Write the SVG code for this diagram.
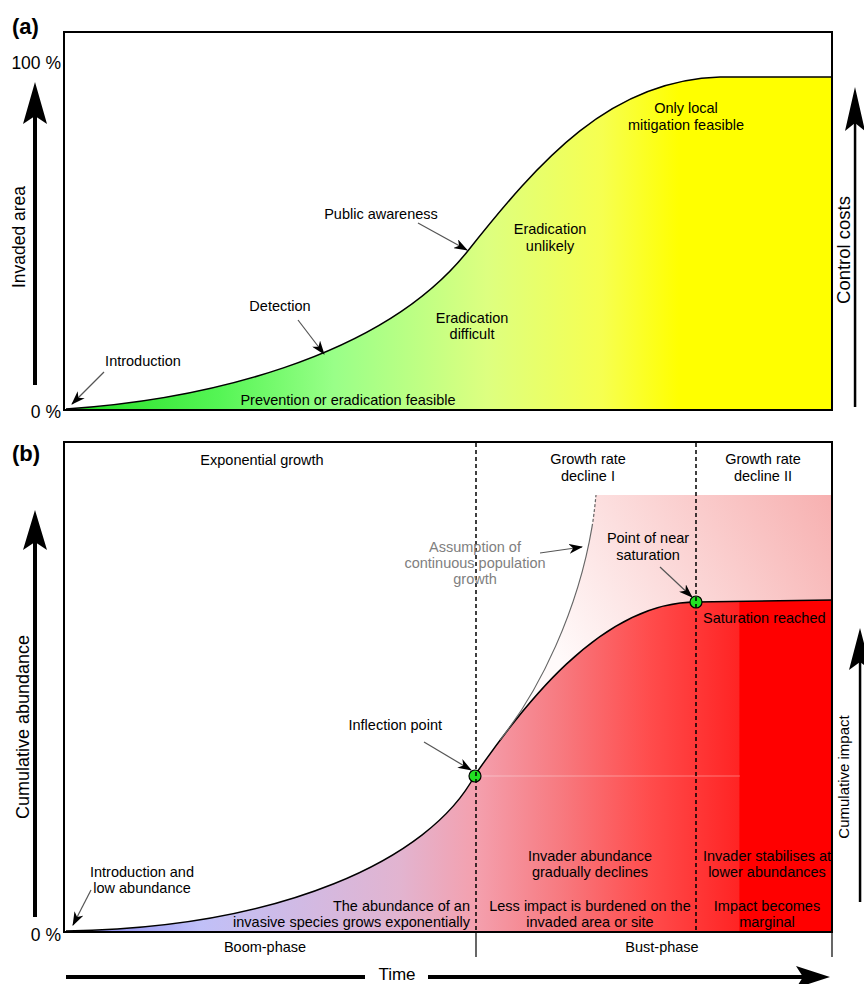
<svg xmlns="http://www.w3.org/2000/svg" width="864" height="984" viewBox="0 0 864 984">
<style>
text{font-family:"Liberation Sans",Arial,sans-serif;font-size:14.5px;fill:#000}
.m{text-anchor:middle}
.e{text-anchor:end}
.ax{font-size:17.5px}
.ttl{font-size:22px;font-weight:bold}
.gray{fill:#808080}
.frame{fill:none;stroke:#000;stroke-width:2}
.curve{fill:none;stroke:#000;stroke-width:1.5}
.dash{stroke:#000;stroke-width:1.5;stroke-dasharray:4 3}
.ann{stroke:#555;stroke-width:1.2;fill:none;marker-end:url(#sa)}
.pt{fill:#22e022;stroke:#000;stroke-width:1.2}
.big{fill:#000}
</style>
<defs>
<marker id="sa" viewBox="0 0 14 10" refX="13" refY="5" markerWidth="14" markerHeight="10" markerUnits="userSpaceOnUse" orient="auto">
<path d="M0,0 L14,5 L0,10 L4,5 Z" fill="#000"/>
</marker>
<linearGradient id="ga" gradientUnits="userSpaceOnUse" x1="66" y1="0" x2="832" y2="0">
<stop offset="0" stop-color="#22dd22"/>
<stop offset="0.2" stop-color="#55f555"/>
<stop offset="0.35" stop-color="#99ff88"/>
<stop offset="0.55" stop-color="#ddff80"/>
<stop offset="0.7" stop-color="#f6ff50"/>
<stop offset="0.8" stop-color="#ffff00"/>
<stop offset="1" stop-color="#ffff00"/>
</linearGradient>
<linearGradient id="gb" gradientUnits="userSpaceOnUse" x1="66" y1="0" x2="832" y2="0">
<stop offset="0" stop-color="#8080f0"/>
<stop offset="0.175" stop-color="#c0c0f8"/>
<stop offset="0.436" stop-color="#e2b4d0"/>
<stop offset="0.535" stop-color="#f4a0ae"/>
<stop offset="0.645" stop-color="#f77a80"/>
<stop offset="0.762" stop-color="#ff4c4c"/>
<stop offset="0.878" stop-color="#ff2424"/>
<stop offset="0.88" stop-color="#ff0000"/>
<stop offset="1" stop-color="#ff0000"/>
</linearGradient>
<linearGradient id="gp" gradientUnits="userSpaceOnUse" x1="560" y1="660" x2="832" y2="495">
<stop offset="0" stop-color="#fffafa"/>
<stop offset="1" stop-color="#f7b0b0"/>
</linearGradient>
</defs>

<g id="panel-a">
<path d="M66,409 C200,400 380,360 467,252 C540,160 610,80 720,77 L832,77 L832,410 L66,410 Z" fill="url(#ga)"/>
<path class="curve" d="M66,409 C200,400 380,360 467,252 C540,160 610,80 720,77 L832,77"/>
<rect class="frame" x="64" y="32" width="768" height="378"/>
<text class="ttl" x="12" y="34">(a)</text>
<text class="ax e" x="61" y="69">100 %</text>
<text class="ax e" x="61" y="418">0 %</text>
</g>

<g id="axes">
<polygon class="big" points="35,82 47,124 35,116 23,124"/>
<rect class="big" x="33" y="115" width="4" height="270"/>
<text class="ax m" transform="translate(25,237) rotate(-90)">Invaded area</text>
<polygon class="big" points="855,87 865,131 855,123 845,131"/>
<rect class="big" x="853.8" y="122" width="2.5" height="285"/>
<text class="m" style="font-size:18.5px" transform="translate(850,250) rotate(-90)">Control costs</text>
<polygon class="big" points="35,510 47,550 35,542 23,550"/>
<rect class="big" x="33" y="541" width="4" height="376"/>
<text class="m" style="font-size:18px" transform="translate(29,727) rotate(-90)">Cumulative abundance</text>
<polygon class="big" points="860,628 871,670 860,662 849,670"/>
<rect class="big" x="858.8" y="661" width="2.5" height="241"/>
<text class="m" style="font-size:15px" transform="translate(849,777) rotate(-90)">Cumulative impact</text>
<rect class="big" x="66" y="975" width="299" height="4"/>
<rect class="big" x="428" y="975" width="377" height="4"/>
<polygon class="big" points="830,977 796,966 803,977 796,988"/>
<text class="m" style="font-size:17px" x="397" y="979.5">Time</text>
</g>

<g id="labels-a">
<g id="introduction"><text class="m" x="143" y="366">Introduction</text></g>
<g id="detection"><text class="m" x="280" y="311">Detection</text></g>
<g id="public-awareness"><text class="m" x="381" y="219">Public awareness</text></g>
<g id="eradication-difficult"><text class="m" x="472" y="323">Eradication</text><text class="m" x="472" y="339">difficult</text></g>
<g id="eradication-unlikely"><text class="m" x="550" y="234">Eradication</text><text class="m" x="550" y="251">unlikely</text></g>
<g id="local-mitigation"><text class="m" x="686" y="113">Only local</text><text class="m" x="686" y="130">mitigation feasible</text></g>
<g id="prevention"><text class="m" x="348" y="405">Prevention or eradication feasible</text></g>
</g>

<g id="panel-b">
<path d="M500,745 C540,690 578,610 592,527 L596,495 L832,495 L832,640 L500,748 Z" fill="url(#gp)"/>
<path d="M66,931 C280,928 430,860 475,775 C520,710 600,602 696,602 L832,600 L832,932 L66,932 Z" fill="url(#gb)"/>
<line x1="480" y1="776" x2="740" y2="776" stroke="#ffffff" stroke-opacity="0.35" stroke-width="1"/>
<path class="curve" d="M66,931 C280,928 430,860 475,775 C520,710 600,602 696,602 L832,600"/>
<path d="M500,740 C540,690 578,610 592,527" fill="none" stroke="#666" stroke-width="1.2"/>
<path d="M592,527 C594,515 595,505 596,495" fill="none" stroke="#666" stroke-width="1.2" stroke-dasharray="3 2"/>
<rect class="frame" x="64" y="442" width="768" height="490"/>
<g id="inflection-point"><circle class="pt" cx="475" cy="776" r="6"/></g>
<g id="saturation-point"><circle class="pt" cx="696" cy="602" r="6"/></g>
<line class="dash" x1="476" y1="443" x2="476" y2="931"/>
<line class="dash" x1="696" y1="443" x2="696" y2="931"/>
<line x1="476" y1="932" x2="476" y2="957" stroke="#000" stroke-width="1.2"/>
<line x1="832" y1="932" x2="832" y2="957" stroke="#000" stroke-width="1.2"/>
<text class="ttl" x="12" y="461">(b)</text>
<text class="ax e" x="61" y="941">0 %</text>
</g>

<g id="labels-b">
<text class="m" x="262" y="465">Exponential growth</text>
<text class="m" x="588" y="464">Growth rate</text><text class="m" x="588" y="481">decline I</text>
<text class="m" x="763" y="464">Growth rate</text><text class="m" x="763" y="481">decline II</text>
<g id="assumption"><text class="m gray" x="475" y="552">Assumption of</text><text class="m gray" x="475" y="568">continuous population</text><text class="m gray" x="475" y="584">growth</text></g>
<g id="near-saturation"><text class="m" x="648" y="543">Point of near</text><text class="m" x="648" y="560">saturation</text></g>
<text x="703" y="623">Saturation reached</text>
<text class="e" x="442" y="730">Inflection point</text>
<text class="m" x="142" y="877">Introduction and</text><text class="m" x="142" y="893">low abundance</text>
<text class="e" x="470" y="911">The abundance of an</text><text class="e" x="470" y="927">invasive species grows exponentially</text>
<text class="m" x="590" y="861">Invader abundance</text><text class="m" x="590" y="877">gradually declines</text>
<text class="m" x="590" y="911">Less impact is burdened on the</text><text class="m" x="590" y="927">invaded area or site</text>
<text class="m" x="767" y="861">Invader stabilises at</text><text class="m" x="767" y="877">lower abundances</text>
<text class="m" x="767" y="911">Impact becomes</text><text class="m" x="767" y="927">marginal</text>
<text class="m" x="265" y="952">Boom-phase</text>
<text class="m" x="662" y="952">Bust-phase</text>
</g>

<g id="connectors">
<line class="ann" x1="104" y1="372" x2="72" y2="404"/>
<line class="ann" x1="298" y1="320" x2="324" y2="354"/>
<line class="ann" x1="418" y1="223" x2="467" y2="250"/>
<line class="ann" x1="540" y1="553" x2="582" y2="547"/>
<line class="ann" x1="660" y1="567" x2="692" y2="597"/>
<line class="ann" x1="424" y1="742" x2="471" y2="770"/>
<line class="ann" x1="91" y1="890" x2="73" y2="925"/>
</g>
</svg>
